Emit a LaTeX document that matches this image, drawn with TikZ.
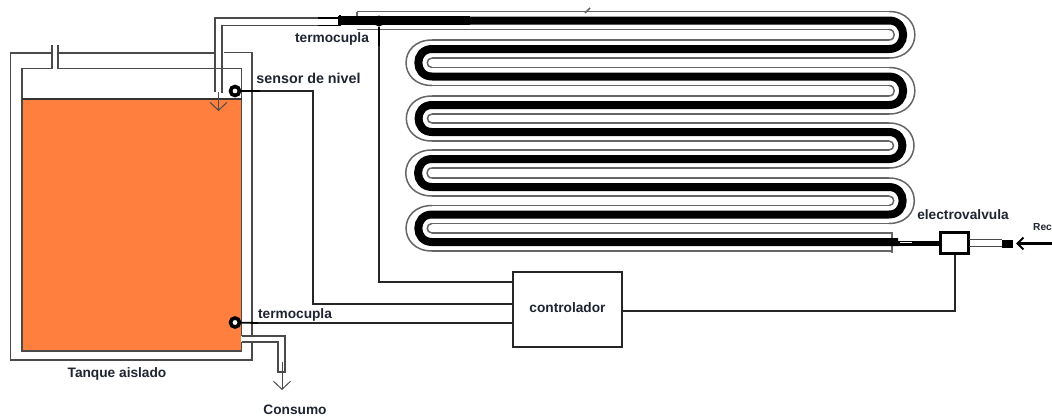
\documentclass[tikz,border=0pt]{standalone}
\usepackage{fontspec}
\setmainfont{Liberation Sans}
\usetikzlibrary{arrows.meta}
\definecolor{tankorange}{HTML}{FF7F3F}
\definecolor{pipegray}{HTML}{4A4A4A}
\definecolor{labelink}{HTML}{1E2430}
\tikzset{
  wall/.style={draw=pipegray,line width=1.3pt},
  wire/.style={draw=black!85,line width=1.1pt},
  thick wire/.style={draw=black,line width=2.4pt},
  coil/.style={draw=black,line width=8pt},
  coilline/.style={draw=pipegray!85,line width=1.5pt},
  ring/.style={circle,draw=black,line width=3.6pt,fill=white,minimum size=9pt,inner sep=0pt},
  lab/.style={font=\fontsize{13.7pt}{15pt}\selectfont\bfseries,text=labelink,inner sep=0pt},
  openhead/.style={-{Straight Barb[length=8pt,width=17pt,line width=1pt]}},
  boxnode/.style={draw=black!85,line width=1.2pt,fill=white,inner sep=0pt},
}
\begin{document}
\begin{tikzpicture}[x=1pt,y=-1pt]
\useasboundingbox (0,0) rectangle (1052,416);
% tank
\fill[tankorange] (23,100) rectangle (241,349.5);
\draw[wall] (52,53) -- (10.5,53) -- (10.5,360) -- (252,360) -- (252,342);
\draw[wall] (58,53) -- (215,53);
\draw[wall] (224,52.5) -- (252,52.5) -- (252,336);
\draw[wall] (52,45) -- (52,68.5) -- (22,68.5) -- (22,351) -- (241.5,351) -- (241.5,342);
\draw[wall] (58,45) -- (58,68.5) -- (241.5,68.5) -- (241.5,336);
\draw[black!80,line width=1.6pt] (22,99) -- (241.5,99);
% outlet
\draw[wall] (241.5,336) -- (285,336) -- (285,372) -- (278,372) -- (278,342) -- (241.5,342);
\coordinate (outA) at (282,362);
\coordinate (outB) at (282,390);
\draw[wall,line width=1pt,openhead] (outA) -- (outB);
% inlet pipe
\draw[wall] (340,18) -- (215,18) -- (215,92);
\draw[wall] (340,25.5) -- (222,25.5) -- (222,93);
\coordinate (inA) at (218.5,92);
\coordinate (inB) at (218.5,111);
\draw[wall,line width=1pt,openhead] (inA) -- (inB);
\draw[black,line width=1.8pt] (318,18) -- (340,18) (318,25.5) -- (340,25.5);
% coil outlines
\foreach \a/\b in {20.5/49,76.5/105,132/159,187/214.5}{
  \draw[coilline] (889,\a-9) to[out=0,in=0,looseness=1.9] (889,\b+9);
  \draw[coilline] (889,\a+9) to[out=0,in=0,looseness=1.7] (889,\b-9);
}
\foreach \a/\b in {49/76.5,105/132,159/187,214.5/242}{
  \draw[coilline] (432,\a-9) to[out=180,in=180,looseness=1.95] (432,\b+9);
  \draw[coilline] (432,\a+9) to[out=180,in=180,looseness=1.7] (432,\b-9);
  \draw[coilline] (432,\a-9) -- (889,\a-9) (432,\a+9) -- (889,\a+9);
  \draw[coilline] (432,\b-9) -- (889,\b-9);
}
\draw[coilline] (432,233) -- (892,233);
\foreach \y in {76.5,132,187}{\draw[coilline] (432,\y+9) -- (889,\y+9);}
\draw[coilline] (432,251) -- (892,251);
\draw[coilline] (892,232) -- (892,253);
\draw[coilline] (357,11.5) -- (889,11.5);
\draw[coilline] (357,29.5) -- (889,29.5);
\draw[coilline] (357,11.5) -- (357,16);
\draw[coilline] (585,13) -- (590,8);
% coil black
\draw[coil] (338,20.5) -- (889,20.5) to[out=0,in=0,looseness=1.7] (889,49)
  -- (432,49) to[out=180,in=180,looseness=1.7] (432,76.5)
  -- (889,76.5) to[out=0,in=0,looseness=1.7] (889,105)
  -- (432,105) to[out=180,in=180,looseness=1.7] (432,132)
  -- (889,132) to[out=0,in=0,looseness=1.7] (889,159)
  -- (432,159) to[out=180,in=180,looseness=1.7] (432,187)
  -- (889,187) to[out=0,in=0,looseness=1.7] (889,214.5)
  -- (432,214.5) to[out=180,in=180,looseness=1.7] (432,242)
  -- (898,242);
\draw[black,line width=9pt] (338,20.5) -- (470,20.5);
\draw[black,line width=5pt] (898,243) -- (940,243);
\draw[white,line width=0.9pt] (900,242.5) -- (912,242.5) (925,240.8) -- (938,240.8);
\draw[black,line width=1.6pt] (340,15) -- (340,26);
% thermocouple top
\node[circle,fill=black,minimum size=11pt,inner sep=0pt] (tcTop) at (379,21) {};
\coordinate (tcTopStub) at (379,46);
\draw[thick wire] (tcTop) -- (tcTopStub);
% controller
\node[boxnode,minimum width=109pt,minimum height=75pt] (ctrl) at (567.5,309.5) {};
\node[lab] (ctrlLab) at (567.5,307.5) {controlador};
% valve
\node[draw=black,line width=2.4pt,fill=white,minimum width=28pt,minimum height=21pt,inner sep=0pt] (valve) at (954.5,243) {};
% supply side
\draw[wall] (969,239.5) -- (1002,239.5) (969,246.5) -- (1002,246.5);
\node[fill=black,minimum width=11pt,minimum height=8pt,inner sep=0pt] (plug) at (1007,243.5) {};
\coordinate (supply) at (1052,243.5);
\coordinate (supplyTip) at (1016,243.5);
\draw[black,line width=2.2pt,-{Straight Barb[length=6pt,width=12pt,line width=2pt]}] (supply) -- (supplyTip);
% sensors
\node[ring] (level) at (235,91) {};
\node[ring] (tcTank) at (235,322.5) {};
\coordinate (levelStub) at (260,91);
\coordinate (tankStub) at (258,323);
\draw[thick wire,line width=1.8pt] (level) -- (levelStub);
\draw[thick wire,line width=1.8pt] (tcTank) -- (tankStub);
% wires to the controller
\draw[wire] (levelStub) -- (313,91) -- (313,304) -- (ctrl.west |- 0,304);
\draw[wire] (tankStub) -- (ctrl.west |- 0,323);
\draw[wire] (tcTopStub) -- (379,282) -- (ctrl.west |- 0,282);
\draw[wire] (ctrl.east |- 0,311) -- (955,311) -- (valve.south -| 955,0);
% labels
\node[lab,anchor=center] (l1) at (332,39) {termocupla};
\node[lab,anchor=center,font=\fontsize{14.3pt}{15pt}\selectfont\bfseries] (l2) at (308.5,78) {sensor de nivel};
\node[lab,anchor=center] (l3) at (295,314.5) {termocupla};
\node[lab,anchor=center] (l4) at (117,373.5) {Tanque aislado};
\node[lab,anchor=center] (l5) at (295,410) {Consumo};
\node[lab,anchor=center] (l6) at (963,214.5) {electrovalvula};
\node[lab,anchor=west,font=\fontsize{10.2pt}{12pt}\selectfont\bfseries] (l7) at (1033,227.5) {Rec};
\end{tikzpicture}
\end{document}
